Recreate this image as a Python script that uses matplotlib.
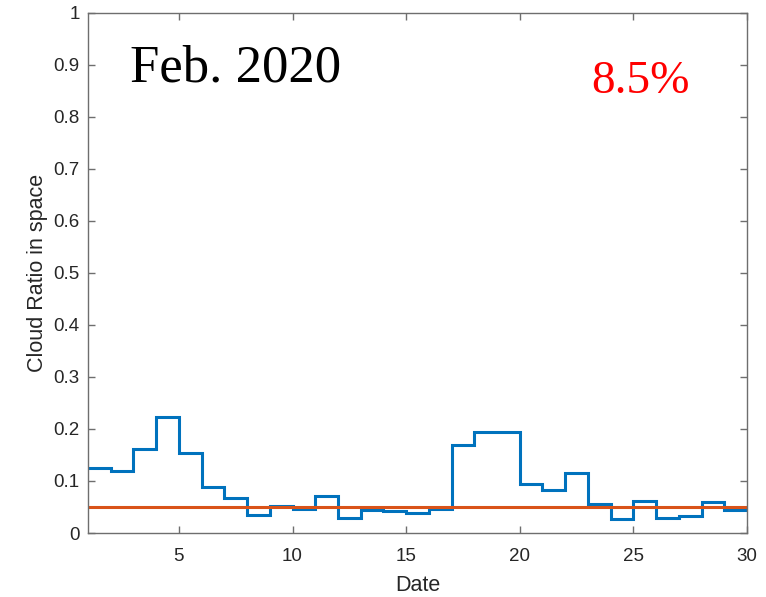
import matplotlib
matplotlib.use("Agg")
import matplotlib.pyplot as plt
import numpy as np

# Daily cloud ratio, each value holds from one date to the next
date_edges = list(range(1, 31))
cloud_ratio = [0.125, 0.119, 0.161, 0.222, 0.153, 0.089, 0.068, 0.034, 0.052,
               0.046, 0.072, 0.028, 0.044, 0.042, 0.038, 0.047, 0.170, 0.194,
               0.195, 0.094, 0.083, 0.115, 0.056, 0.027, 0.062, 0.029, 0.033,
               0.060, 0.044]
threshold = 0.05
month_label = "Feb. 2020"
percent_label = "8.5%"

blue = (0.0, 0.447, 0.741)
orange = (0.85, 0.325, 0.098)
axis_gray = "#6e6e6e"

plt.rcParams['font.family'] = ['Liberation Sans', 'DejaVu Sans']

fig = plt.figure(figsize=(7.66, 5.97), dpi=100)
ax = fig.add_axes([0.1149, 0.1072, 0.9752 - 0.1149, 0.9787 - 0.1072])

ax.stairs(cloud_ratio, date_edges, baseline=None, color=blue, linewidth=2.2)
ax.plot([date_edges[0], date_edges[-1]], [threshold, threshold], color=orange, linewidth=2.2)

ax.set_xlim(1, 30)
ax.set_ylim(0, 1)
ax.set_xticks([5, 10, 15, 20, 25, 30])
ax.set_yticks(np.round(np.arange(0, 1.01, 0.1), 1))
ax.set_yticklabels(["0", "0.1", "0.2", "0.3", "0.4", "0.5", "0.6", "0.7", "0.8", "0.9", "1"])

for s in ax.spines.values():
    s.set_color(axis_gray)
    s.set_linewidth(1.0)
ax.tick_params(direction='in', length=5, width=1.0, color=axis_gray,
               labelsize=13.5, labelcolor="#262626", top=True, right=True)
ax.tick_params(axis='x', pad=11)
ax.tick_params(axis='y', pad=6)

ax.set_xlabel("Date", fontsize=15.5, color="#262626", labelpad=7)
ax.set_ylabel("Cloud Ratio in space", fontsize=15.5, color="#262626", labelpad=4)

fig.text(130 / 766, 1 - 82 / 597, month_label, fontsize=38,
         family=['Liberation Serif', 'DejaVu Serif'], color='black',
         ha='left', va='baseline')
fig.text(591 / 766, 1 - 93 / 597, percent_label, fontsize=34,
         family=['Liberation Serif', 'DejaVu Serif'], color='red',
         ha='left', va='baseline')

fig.savefig("out.png", dpi=100)
